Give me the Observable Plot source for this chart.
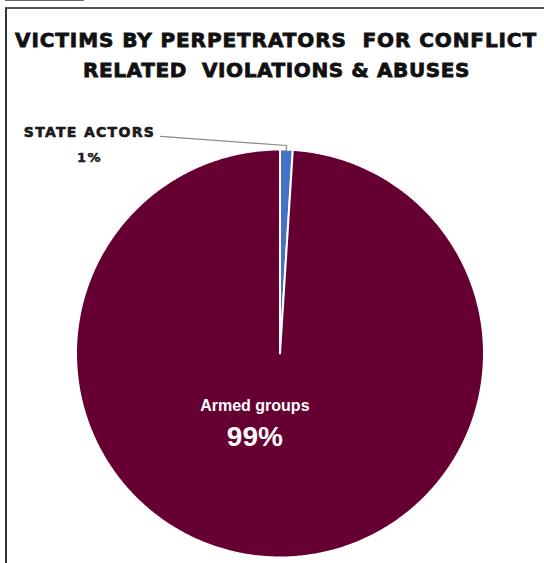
<!DOCTYPE html>
<html><head><meta charset="utf-8">
<script src="https://cdn.jsdelivr.net/npm/d3@7"></script>
<script src="https://cdn.jsdelivr.net/npm/@observablehq/plot@0.6"></script>
<style>
body{margin:0;background:#fff;}
#wrap{position:relative;width:544px;height:563px;overflow:hidden;background:#fff;}
#chart{position:absolute;left:0;top:0;}
#tab{position:absolute;left:5px;top:-10px;width:78px;height:10px;border-right:1px solid #777;border-bottom:1px solid #666;}
#frame{position:absolute;left:5px;top:7px;width:600px;height:600px;border-left:2px solid #333;border-top:2px solid #555;}
.t{position:absolute;white-space:pre;font:bold 20px "DejaVu Sans";color:#111;line-height:30px;-webkit-text-stroke:0.8px #111;}
#chart svg text.heavy{paint-order:stroke;}
</style></head>
<body>
<div id="wrap">
  <div id="chart"></div>
  <div id="tab"></div>
  <div id="frame"></div>
  <span class="t" id="t1"></span>
  <span class="t" id="t2"></span>
</div>
<script>
// ---- data ----
const titleLines = ["VICTIMS BY PERPETRATORS  FOR CONFLICT", "RELATED  VIOLATIONS & ABUSES"];
const categories = ["STATE ACTORS", "Armed groups"];
const shares = [1, 99];
const valueLabels = ["1%", "99%"];
const sliceColors = ["#4472C4", "#660033"];

// ---- title ----
const titleBoxes = [{left: 15, right: 537, mid: 40}, {left: 83, right: 470, mid: 70}];
titleLines.forEach((txt, i) => {
  const el = document.getElementById("t" + (i + 1));
  el.textContent = txt;
  const w = el.getBoundingClientRect().width;
  const b = titleBoxes[i];
  const ls = (b.right - b.left - w) / txt.length;
  el.style.letterSpacing = ls + "px";
  el.style.left = b.left + "px";
  el.style.top = (b.mid - 15) + "px";
});

// ---- pie geometry from data ----
const pie = d3.pie().sort(null).value(d => d)(shares);
const outlines = pie.map((p, i) => {
  const pts = [{x: 0, y: 0}];
  const n = Math.max(4, Math.ceil((p.endAngle - p.startAngle) / (Math.PI / 360)));
  for (let k = 0; k <= n; k++) {
    const a = p.startAngle + (p.endAngle - p.startAngle) * k / n;
    pts.push({x: Math.sin(a), y: Math.cos(a)});
  }
  pts.push({x: 0, y: 0});
  return pts;
});
const mid = pie.map(p => (p.startAngle + p.endAngle) / 2);

// inside label for the large slice
const inR = 0.333;
const inside = [{x: Math.sin(mid[1]) * inR, y: Math.cos(mid[1]) * inR}];
// outside label for the small slice
const outPos = [{x: -0.934, y: 1.022}];
const leader = [
  {x: -0.586, y: 1.064},
  {x: Math.sin(mid[0]) * 1.02, y: Math.cos(mid[0]) * 1.02},
  {x: Math.sin(mid[0]) * 0.99, y: Math.cos(mid[0]) * 0.99}
];

const plot = Plot.plot({
  width: 544, height: 563,
  margin: 0,
  style: {background: "transparent"},
  x: {domain: [-1, 1], range: [75.5, 483.5], axis: null},
  y: {domain: [-1, 1], range: [557, 149], axis: null},
  marks: [
    ...outlines.map((pts, i) => Plot.line(pts, {x: "x", y: "y", fill: sliceColors[i], stroke: "white", strokeWidth: 2, strokeLinejoin: "round"})),
    Plot.line(leader, {x: "x", y: "y", stroke: "#8a8a8a", strokeWidth: 1.2}),
    Plot.text(inside, {x: "x", y: "y", text: () => categories[1], dx: -23, dy: -16, fill: "white", fontSize: 16, fontWeight: "bold", fontFamily: "Liberation Sans"}),
    Plot.text(inside, {x: "x", y: "y", text: () => valueLabels[1], dx: -23, dy: 16, fill: "white", fontSize: 28, fontWeight: "bold", fontFamily: "Liberation Sans"}),
    Plot.text(outPos, {x: "x", y: "y", text: () => categories[0], dy: -12, fill: "#1a1a1a", stroke: "#1a1a1a", strokeWidth: 0.6, fontSize: 14, fontWeight: "bold", fontFamily: "DejaVu Sans"}),
    Plot.text(outPos, {x: "x", y: "y", text: () => valueLabels[0], dy: 13, fill: "#1a1a1a", stroke: "#1a1a1a", strokeWidth: 0.5, fontSize: 13, fontWeight: "bold", fontFamily: "DejaVu Sans"})
  ]
});
plot.querySelectorAll("text").forEach(t => {
  if (t.textContent === categories[0]) t.setAttribute("letter-spacing", "1.3");
  if (t.textContent === valueLabels[0]) t.setAttribute("letter-spacing", "1.5");
});
document.getElementById("chart").appendChild(plot);
</script>
</body></html>
